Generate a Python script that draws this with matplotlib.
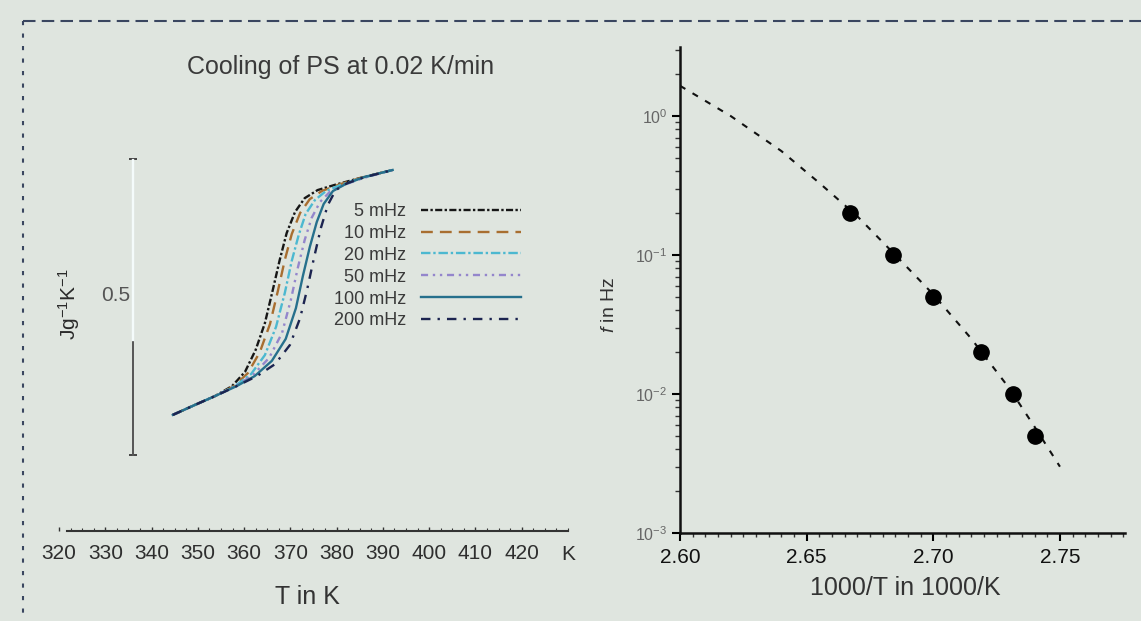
import matplotlib
matplotlib.use("Agg")
import matplotlib.pyplot as plt
from matplotlib.lines import Line2D
from matplotlib.ticker import MultipleLocator, FixedLocator, LogLocator, NullFormatter

plt.rcParams['font.family'] = ['Liberation Sans', 'DejaVu Sans']
plt.rcParams['mathtext.fontset'] = 'custom'
plt.rcParams['mathtext.rm'] = 'Liberation Sans'
plt.rcParams['mathtext.it'] = 'Liberation Sans:italic'
plt.rcParams['mathtext.bf'] = 'Liberation Sans:bold'

# ---------------- data ----------------
labels = ["5 mHz", "10 mHz", "20 mHz", "50 mHz", "100 mHz", "200 mHz"]

T_5 = [344.6, 349.4, 353.7, 357.4, 360.2, 362.5, 364.5, 366.2, 367.7, 369.2, 371.0, 373.1, 375.9, 379.6, 385.0, 392.1]
cp_5 = [0.124, 0.155, 0.182, 0.213, 0.257, 0.325, 0.408, 0.510, 0.603, 0.686, 0.751, 0.794, 0.819, 0.835, 0.856, 0.881]
T_10 = [344.6, 349.4, 353.7, 357.8, 360.8, 363.4, 365.6, 367.3, 368.8, 370.3, 372.1, 374.2, 376.8, 380.3, 385.0, 392.1]
cp_10 = [0.124, 0.155, 0.182, 0.213, 0.253, 0.318, 0.405, 0.507, 0.603, 0.683, 0.748, 0.791, 0.816, 0.835, 0.856, 0.881]
T_20 = [344.6, 349.4, 353.7, 358.0, 361.5, 364.5, 366.9, 368.8, 370.3, 371.8, 373.3, 375.3, 377.7, 380.9, 385.4, 392.1]
cp_20 = [0.124, 0.155, 0.182, 0.213, 0.250, 0.309, 0.396, 0.501, 0.600, 0.680, 0.745, 0.788, 0.816, 0.835, 0.856, 0.881]
T_50 = [344.6, 349.4, 353.7, 358.2, 361.9, 365.4, 368.2, 370.1, 371.6, 373.1, 374.6, 376.4, 378.5, 381.6, 385.7, 392.1]
cp_50 = [0.124, 0.155, 0.182, 0.213, 0.247, 0.300, 0.377, 0.479, 0.578, 0.665, 0.733, 0.782, 0.813, 0.835, 0.856, 0.881]
T_100 = [344.6, 349.4, 353.7, 358.4, 362.3, 366.0, 369.0, 371.2, 372.7, 374.2, 375.7, 377.2, 379.2, 382.0, 385.9, 392.1]
cp_100 = [0.124, 0.155, 0.182, 0.213, 0.244, 0.291, 0.359, 0.454, 0.553, 0.643, 0.720, 0.776, 0.816, 0.838, 0.859, 0.881]
T_200 = [344.6, 349.4, 353.7, 358.4, 362.8, 366.7, 369.9, 372.1, 373.6, 375.1, 376.6, 378.1, 379.8, 382.4, 386.1, 392.1]
cp_200 = [0.124, 0.155, 0.182, 0.213, 0.244, 0.281, 0.340, 0.423, 0.510, 0.609, 0.702, 0.773, 0.819, 0.841, 0.859, 0.881]

T_ticks = [320, 330, 340, 350, 360, 370, 380, 390, 400, 410, 420]

# relaxation map
inv_T = [2.667, 2.684, 2.700, 2.719, 2.7315, 2.740]
freq = [0.2, 0.1, 0.05, 0.02, 0.01, 0.005]
fit_x = [2.600, 2.620, 2.640, 2.655, 2.670, 2.685, 2.700, 2.715, 2.730, 2.740, 2.750]
fit_f = [1.65, 1.0, 0.56, 0.33, 0.19, 0.10, 0.052, 0.025, 0.011, 0.0058, 0.003]
invT_ticks = [2.60, 2.65, 2.70, 2.75]

# ---------------- figure ----------------
W, H = 1141, 621
bg = '#dfe5df'
fig = plt.figure(figsize=(W / 100, H / 100), dpi=100, facecolor=bg)

def fx(px):
    return px / W

def fy(py):
    return 1 - py / H

# ---- left panel ----
axL = fig.add_axes([fx(59), fy(455), (568 - 59) / W, (455 - 159) / H])
axL.set_facecolor('none')
axL.set_xlim(320, 430)
axL.set_ylim(0, 0.915)

styles = [
    dict(color='#161616', ls=(0, (3, 1, 1, 1))),
    dict(color='#a86e30', ls=(0, (5, 3))),
    dict(color='#4cb8d0', ls=(0, (4, 1.2, 1, 1.2))),
    dict(color='#9486cc', ls=(0, (3, 2, 1, 2, 1, 2))),
    dict(color='#26708c', ls='-'),
    dict(color='#1c2450', ls=(0, (4, 3, 1, 3))),
]
Ts = [T_5, T_10, T_20, T_50, T_100, T_200]
cps = [cp_5, cp_10, cp_20, cp_50, cp_100, cp_200]
for T, cp, lab, st in zip(Ts, cps, labels, styles):
    axL.plot(T, cp, color=st['color'], linestyle=st['ls'], lw=1.7, label=lab)

leg = axL.legend(loc='upper right', bbox_to_anchor=(fx(521), fy(203)),
                 bbox_transform=fig.transFigure, frameon=False, markerfirst=False,
                 fontsize=13, handlelength=5.54, handletextpad=0.83,
                 labelspacing=0.27, borderpad=0, borderaxespad=0)
for t in leg.get_texts():
    t.set_color('#3a3a3a')

for s in ['top', 'right']:
    axL.spines[s].set_visible(False)
axL.spines['left'].set_position(('data', 336))
axL.spines['left'].set_color('#555555')
axL.spines['left'].set_linewidth(1.4)
axL.axvline(336, ymin=0.39, ymax=1.0, color='#f4fbfb', lw=1.7, zorder=3)
axL.spines['bottom'].set_position(('outward', 76 * 72 / 100))
axL.spines['bottom'].set_bounds(321.7, 430)
axL.spines['bottom'].set_linestyle((0, (2.5, 1)))
axL.spines['bottom'].set_color('#333333')
axL.spines['bottom'].set_linewidth(1.5)

axL.set_xticks(T_ticks)
axL.set_xticklabels([str(t) for t in T_ticks])
axL.xaxis.set_minor_locator(MultipleLocator(2.5))
axL.tick_params(axis='x', which='major', direction='in', length=3, width=1,
                pad=9.5, labelsize=15, labelcolor='#2e2e2e', color='#333333')
axL.tick_params(axis='x', which='minor', direction='in', length=2.5, width=0.8,
                color='#333333')
axL.set_yticks([0.5])
axL.set_yticklabels(['0.5'])
axL.yaxis.set_minor_locator(FixedLocator([0.0, 0.915]))
axL.tick_params(axis='y', which='major', length=0, pad=2, labelsize=15,
                labelcolor='#555555')
axL.tick_params(axis='y', which='minor', direction='inout', length=6, width=1.4,
                color='#444444')

axL.set_xlabel('T in K', fontsize=18, color='#333333')
axL.xaxis.set_label_coords((307 - 59) / 509, (455 - 585) / 296)
axL.set_ylabel(r'Jg$^{-1}$K$^{-1}$', fontsize=15, color='#2a2a2a')
axL.yaxis.set_label_coords((82 - 59) / 509, (455 - 304) / 296)

fig.text(fx(568), fy(555), 'K', fontsize=15, color='#2e2e2e', ha='center', va='center')
fig.text(fx(341), fy(67), 'Cooling of PS at 0.02 K/min', fontsize=18,
         color='#3a3a3a', ha='center', va='center')

# ---- right panel ----
axR = fig.add_axes([fx(680), fy(533), (1125 - 680) / W, (533 - 47) / H])
axR.set_facecolor('none')
axR.set_yscale('log')
axR.set_xlim(2.60, 2.60 + 445 / 2533)
axR.set_ylim(1e-3, 10 ** ((533 - 47) / 139 - 3))
axR.plot(fit_x, fit_f, color='#111111', lw=1.5, linestyle=(0, (3, 4)), zorder=2)
axR.plot(inv_T, freq, 'o', color='black', markersize=11, zorder=3)

for s in ['top', 'right']:
    axR.spines[s].set_visible(False)
for s in ['left', 'bottom']:
    axR.spines[s].set_linewidth(1.8)
    axR.spines[s].set_color('#111111')

axR.set_xticks(invT_ticks)
axR.set_xticklabels(['%.2f' % v for v in invT_ticks])
axR.xaxis.set_minor_locator(MultipleLocator(0.005))
axR.yaxis.set_major_locator(LogLocator(base=10, numticks=10))
axR.yaxis.set_minor_locator(LogLocator(base=10, subs=range(2, 10), numticks=20))
axR.yaxis.set_minor_formatter(NullFormatter())
axR.tick_params(axis='x', which='major', direction='out', length=6, width=1.5,
                pad=5, labelsize=15, labelcolor='#111111')
axR.tick_params(axis='x', which='minor', direction='out', length=3, width=1,
                color='#333333')
axR.tick_params(axis='y', which='major', direction='out', length=6, width=1.5,
                pad=3, labelsize=11.5, labelcolor='#666666')
axR.tick_params(axis='y', which='minor', direction='out', length=3.5, width=1,
                color='#333333')

axR.set_xlabel('1000/T in 1000/K', fontsize=18, color='#333333')
axR.xaxis.set_label_coords((905 - 680) / 445, (533 - 576) / 486)
axR.set_ylabel(r'$\mathit{f}$ in Hz', fontsize=14, color='#333333')
axR.yaxis.set_label_coords((618 - 680) / 445, (533 - 305) / 486)

# ---- outer dashed frame (top and left edges) ----
fig.add_artist(Line2D([fx(23), 1.0], [fy(21), fy(21)], transform=fig.transFigure,
                      color='#3a4660', lw=1.5, linestyle=(0, (6, 3))))
fig.add_artist(Line2D([fx(23), fx(23)], [fy(21), 0.0], transform=fig.transFigure,
                      color='#3a4660', lw=1.5, linestyle=(0, (2, 4))))

fig.savefig('out.png', dpi=100, facecolor=bg)
